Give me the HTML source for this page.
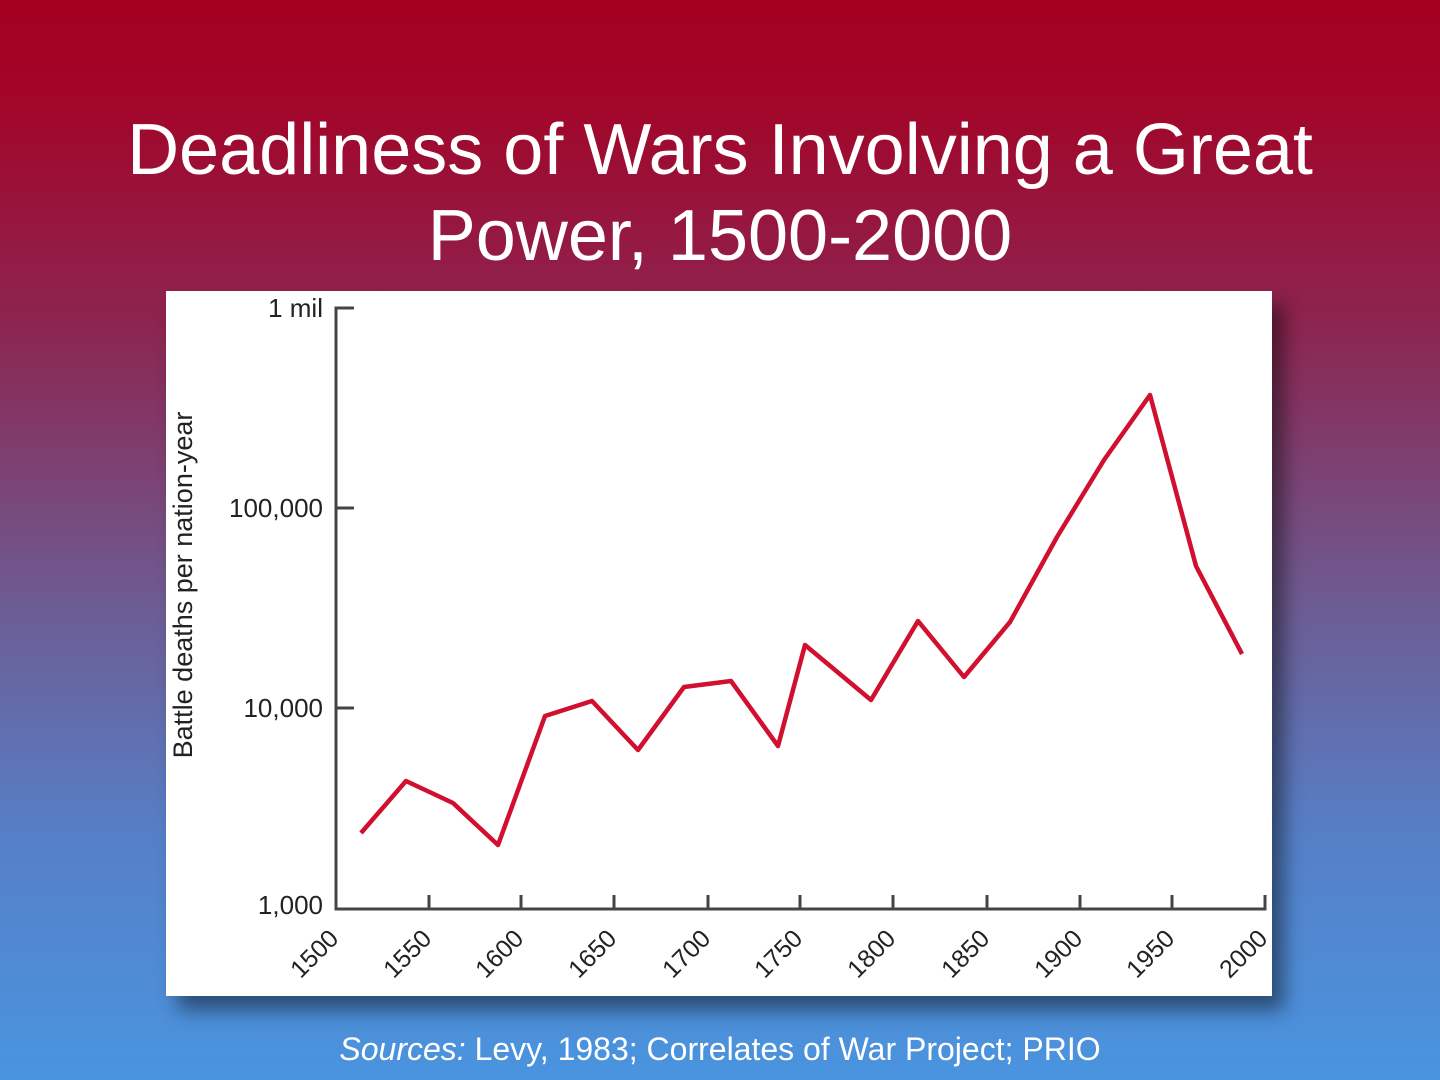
<!DOCTYPE html>
<html><head><style>
html,body{margin:0;padding:0;}
body{width:1440px;height:1080px;overflow:hidden;position:relative;
background:linear-gradient(to bottom,#a50020 0%,#a2062a 10%,#8c2550 30%,#6e5a90 55%,#5580c8 78%,#4a94df 100%);
font-family:"Liberation Sans",sans-serif;}
.title{position:absolute;top:107px;left:0;width:1440px;text-align:center;color:#fff;font-size:72px;line-height:86px;}
.panel{position:absolute;left:166px;top:291px;width:1106px;height:705px;background:#fff;box-shadow:12px 14px 18px rgba(0,0,0,0.45);}
.src{position:absolute;top:1031px;left:0;width:1440px;text-align:center;color:#fff;font-size:32px;}
svg{position:absolute;left:0;top:0;}
</style></head><body>
<div class="title">Deadliness of Wars Involving a Great<br>Power, 1500-2000</div>
<div class="panel"></div>
<svg width="1440" height="1080" font-family="Liberation Sans, sans-serif">
<g stroke="#444" stroke-width="3" fill="none">
<path d="M354 308 H336 V909 H1265 V895"/>
<path d="M336 508 H354 M336 708 H354"/>
<path d="M429 909 V895 M521 909 V895 M614 909 V895 M708 909 V895 M800 909 V895 M893 909 V895 M987 909 V895 M1080 909 V895 M1172 909 V895"/>
</g>
<g font-size="26" fill="#222" text-anchor="end">
<text x="323" y="317">1 mil</text>
<text x="323" y="517">100,000</text>
<text x="323" y="717">10,000</text>
<text x="323" y="914">1,000</text>
</g>
<text transform="translate(192,585) rotate(-90)" font-size="27" fill="#222" text-anchor="middle">Battle deaths per nation-year</text>
<g font-size="25" fill="#222" text-anchor="end">
<text transform="translate(340,940) rotate(-45)">1500</text>
<text transform="translate(433,940) rotate(-45)">1550</text>
<text transform="translate(525,940) rotate(-45)">1600</text>
<text transform="translate(618,940) rotate(-45)">1650</text>
<text transform="translate(712,940) rotate(-45)">1700</text>
<text transform="translate(804,940) rotate(-45)">1750</text>
<text transform="translate(897,940) rotate(-45)">1800</text>
<text transform="translate(991,940) rotate(-45)">1850</text>
<text transform="translate(1084,940) rotate(-45)">1900</text>
<text transform="translate(1176,940) rotate(-45)">1950</text>
<text transform="translate(1269,940) rotate(-45)">2000</text>
</g>
<polyline fill="none" stroke="#d0102e" stroke-width="4.5" stroke-linejoin="round" points="361,833 406,781 453,803 498,845 545,716 592,701 638,750 684,687 731,681 778,746 805,645 871,700 918,621 964,677 1010,622 1057,537 1104,460 1150,395 1196,566 1242,654"/>
</svg>
<div class="src"><i>Sources:</i> Levy, 1983; Correlates of War Project; PRIO</div>
</body></html>
